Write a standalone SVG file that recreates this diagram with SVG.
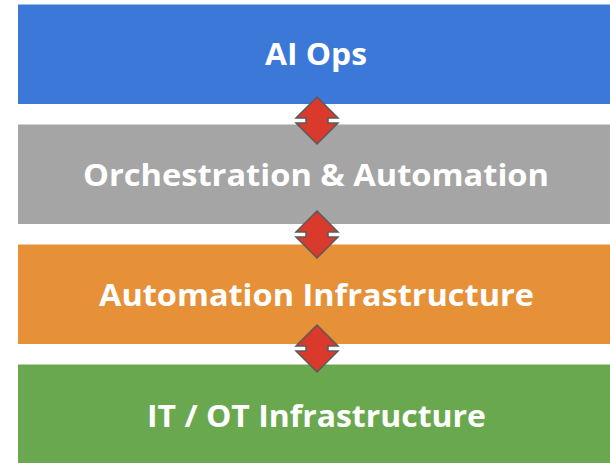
<svg xmlns="http://www.w3.org/2000/svg" width="610" height="463" viewBox="0 0 610 463">
  <style>
    .bar { stroke: none; }
    .lbl { font-family: "Open Sans", "Liberation Sans", sans-serif; font-weight: 700; font-size: 31px; fill: #ffffff; text-anchor: middle; }
    .arr { fill: #d93a2b; stroke: #5a5a5a; stroke-width: 1.5; stroke-linejoin: miter; }
  </style>
  <defs>
    <path id="dbl" d="M0,0 L21,21 L11,21 L11,26 L21,26 L0,47 L-21,26 L-11,26 L-11,21 L-21,21 Z"/>
  </defs>
  <rect width="610" height="463" fill="#ffffff"/>
  <g id="ai-ops">
    <rect class="bar" x="18" y="4.5" width="600" height="99.5" fill="#3c78d8"/>
    <text class="lbl" x="316" y="64.5" textLength="102" lengthAdjust="spacingAndGlyphs">AI Ops</text>
  </g>
  <g id="orchestration">
    <rect class="bar" x="18" y="124.5" width="600" height="99.5" fill="#a5a5a5"/>
    <text class="lbl" x="316" y="186" textLength="466" lengthAdjust="spacingAndGlyphs">Orchestration &amp; Automation</text>
  </g>
  <g id="automation-infra">
    <rect class="bar" x="18" y="244.5" width="600" height="99.5" fill="#e69138"/>
    <text class="lbl" x="316.5" y="306" textLength="435" lengthAdjust="spacingAndGlyphs">Automation Infrastructure</text>
  </g>
  <g id="it-ot-infra">
    <rect class="bar" x="18" y="364.5" width="600" height="99.5" fill="#6aa84f"/>
    <text class="lbl" x="316.5" y="427" textLength="339" lengthAdjust="spacingAndGlyphs">IT / OT Infrastructure</text>
  </g>
  <g id="connectors">
    <use href="#dbl" class="arr" x="317" y="97"/>
    <use href="#dbl" class="arr" x="317" y="211"/>
    <use href="#dbl" class="arr" x="317" y="325"/>
  </g>
</svg>
